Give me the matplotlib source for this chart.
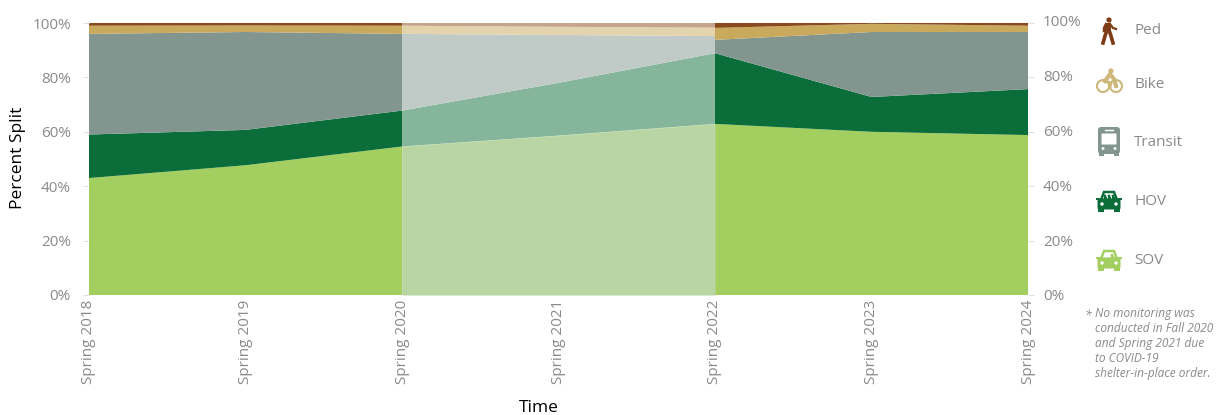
import numpy as np
import matplotlib
matplotlib.use('Agg')
import matplotlib.pyplot as plt
from matplotlib.patches import Circle, Rectangle, FancyBboxPatch, Polygon

plt.rcParams['font.family'] = ['Open Sans', 'DejaVu Sans']

years = ['Spring 2018', 'Spring 2019', 'Spring 2020', 'Spring 2021',
         'Spring 2022', 'Spring 2023', 'Spring 2024']
# Spring 2022 appears twice: the shaded side and the measured side differ a bit
positions = [0, 1, 2, 3, 4, 4, 5, 6]
sov = [43.0, 47.7, 54.6, 58.6, 62.9, 62.9, 60.0, 58.8]
hov = [16.0, 13.0, 13.2, 19.4, 26.0, 26.0, 12.8, 16.9]
transit = [37.0, 36.0, 28.2, 17.6, 6.3, 4.9, 23.9, 21.0]
bike = [3.0, 2.4, 3.0, 3.0, 3.1, 4.4, 3.0, 2.3]
ped = [1.0, 0.9, 1.0, 1.4, 1.7, 1.8, 0.3, 1.0]
y_ticks = [0, 20, 40, 60, 80, 100]
legend_names = ['Ped', 'Bike', 'Transit', 'HOV', 'SOV']
note = ('No monitoring was\nconducted in Fall 2020\nand Spring 2021 due\n'
        'to COVID-19\nshelter-in-place order.')

C_SOV = '#a2cf5f'
C_SOV_SHADE = '#b9d5a3'
C_HOV = '#0b6e3a'
C_TRANSIT = '#82968f'
C_BIKE = '#c9a95c'
C_PED = '#8a4a1c'
GREY = '#8a8a8a'

W, H = 1224, 415
fig = plt.figure(figsize=(W / 100, H / 100), dpi=100)


def box(x0, y0, x1, y1):
    # pixel box (y from the top) to figure fractions
    return [x0 / W, 1 - y1 / H, (x1 - x0) / W, (y1 - y0) / H]


ax = fig.add_axes(box(89, 23, 1028, 295))
ax.stackplot(positions, sov, hov, transit, bike, ped,
             colors=[C_SOV, C_HOV, C_TRANSIT, C_BIKE, C_PED], linewidth=0)
# no monitoring period
ax.axvspan(2, 4, facecolor='white', alpha=0.5, linewidth=0, zorder=3)
ax.fill_between(positions[2:5], 0, sov[2:5], color=C_SOV_SHADE, linewidth=0, zorder=4)
ax.set_xlim(0, 6)
ax.set_ylim(0, 100)
ax.set_xticks(range(len(years)))
ax.set_xticklabels(years, rotation=90, fontsize=11, color=GREY)
ax.set_yticks(y_ticks)
ax.set_yticklabels([f'{v}%' for v in y_ticks], fontsize=11, color=GREY)
ax.tick_params(axis='y', length=4, width=0.6, color='#d9d9d9', pad=9, right=True)
ax.tick_params(axis='x', length=0, pad=3.5)
for s in ax.spines.values():
    s.set_visible(False)

# right labels sit slightly higher than the left ones
ax_r = fig.add_axes(box(1028, 20.5, 1029, 295))
ax_r.patch.set_visible(False)
ax_r.set_ylim(0, 100)
ax_r.set_xticks([])
ax_r.yaxis.tick_right()
ax_r.set_yticks(y_ticks)
ax_r.set_yticklabels([f'{v}%' for v in y_ticks], fontsize=11, color=GREY)
ax_r.tick_params(axis='y', length=0, pad=10)
for s in ax_r.spines.values():
    s.set_visible(False)

# overlay in pixels for axis titles, legend icons and the note
ov = fig.add_axes([0, 0, 1, 1])
ov.set_xlim(0, W)
ov.set_ylim(H, 0)
ov.axis('off')
ov.text(539, 407.5, 'Time', fontsize=12.5, color='black', ha='center', va='center')
ov.text(18, 158, 'Percent Split', fontsize=12.5, color='black', rotation=90, ha='center', va='center')


def draw_car(cx, cy, color, heads):
    ov.add_patch(Polygon([(cx - 8, cy - 1), (cx - 5, cy - 9), (cx + 5, cy - 9), (cx + 8, cy - 1)],
                         closed=True, fc='white', ec=color, lw=1.8))
    for hx in heads:
        ov.add_patch(Circle((cx + hx, cy - 5), 1.4, fc=color, ec='none'))
        ov.add_patch(Rectangle((cx + hx - 1.5, cy - 4), 3, 3, fc=color, ec='none'))
    ov.add_patch(FancyBboxPatch((cx - 10, cy - 1), 20, 8, boxstyle='round,pad=1.5', fc=color, ec='none'))
    ov.add_patch(Polygon([(cx - 13, cy - 3), (cx - 9, cy - 3), (cx - 9, cy - 1), (cx - 13, cy - 1)], fc=color, ec='none'))
    ov.add_patch(Polygon([(cx + 13, cy - 3), (cx + 9, cy - 3), (cx + 9, cy - 1), (cx + 13, cy - 1)], fc=color, ec='none'))
    ov.add_patch(Rectangle((cx - 11, cy + 7), 6, 4, fc=color, ec='none'))
    ov.add_patch(Rectangle((cx + 5, cy + 7), 6, 4, fc=color, ec='none'))
    ov.add_patch(Circle((cx - 7, cy + 3), 1.7, fc='white', ec='none'))
    ov.add_patch(Circle((cx + 7, cy + 3), 1.7, fc='white', ec='none'))


def draw_bus(cx, cy, color):
    ov.add_patch(FancyBboxPatch((cx - 8, cy - 11), 16, 21, boxstyle='round,pad=3', fc=color, ec='none'))
    ov.add_patch(FancyBboxPatch((cx - 7, cy - 7), 14, 10, boxstyle='round,pad=0.5', fc='white', ec='none'))
    ov.add_patch(Rectangle((cx - 10, cy + 11), 5, 4, fc=color, ec='none'))
    ov.add_patch(Rectangle((cx + 5, cy + 11), 5, 4, fc=color, ec='none'))
    ov.add_patch(Circle((cx - 6, cy + 7.5), 1.5, fc='white', ec='none'))
    ov.add_patch(Circle((cx + 6, cy + 7.5), 1.5, fc='white', ec='none'))
    ov.plot([cx - 4, cx + 4], [cy - 11, cy - 11], color='white', lw=1)


def draw_bike(cx, cy, color):
    ov.add_patch(Circle((cx - 6, cy + 2), 6, fc='none', ec=color, lw=1.5))
    ov.add_patch(Circle((cx + 7, cy + 2), 6, fc='none', ec=color, lw=1.5))
    ov.add_patch(Circle((cx + 2, cy - 13), 2.6, fc=color, ec='none'))
    ov.plot([cx - 4, cx + 1, cx + 5, cx + 7], [cy - 3, cy - 10, cy - 5, cy + 2], color=color, lw=3)
    ov.plot([cx - 4, cx + 2, cx + 1], [cy - 3, cy - 1, cy + 3], color=color, lw=2)


def draw_ped(cx, cy, color):
    ov.add_patch(Circle((cx + 1, cy - 10), 2.6, fc=color, ec='none'))
    ov.add_patch(Polygon([(cx - 3, cy - 7), (cx + 3, cy - 7), (cx + 3, cy + 2), (cx - 3, cy + 2)],
                         closed=True, fc=color, ec='none'))
    ov.plot([cx - 1, cx - 3, cx - 5], [cy, cy + 6, cy + 13], color=color, lw=2.6)
    ov.plot([cx + 1, cx + 3, cx + 5], [cy, cy + 6, cy + 13], color=color, lw=2.6)
    ov.plot([cx + 2, cx + 5, cx + 8], [cy - 6, cy - 2, cy - 1], color=color, lw=1.6)
    ov.plot([cx - 2, cx - 4, cx - 4], [cy - 6, cy - 2, cy + 1], color=color, lw=1.8)


draw_ped(1108, 30, '#7f3b16')
draw_bike(1109, 84, '#cdb77a')
draw_bus(1109, 141, C_TRANSIT)
draw_car(1109, 201, C_HOV, [-4, 0, 4])
draw_car(1109, 260, C_SOV, [3])

for name, yy in zip(legend_names, [31, 84, 142, 201, 260]):
    ov.text(1134, yy, name, fontsize=11, color=GREY, va='center', ha='left')

ov.text(1085, 315, '*', fontsize=9, color=GREY, style='italic', va='center', ha='left')
ov.text(1095, 343, note, fontsize=8.6, color=GREY, style='italic', va='center', ha='left', linespacing=1.2)

fig.savefig('out.png', dpi=100)
